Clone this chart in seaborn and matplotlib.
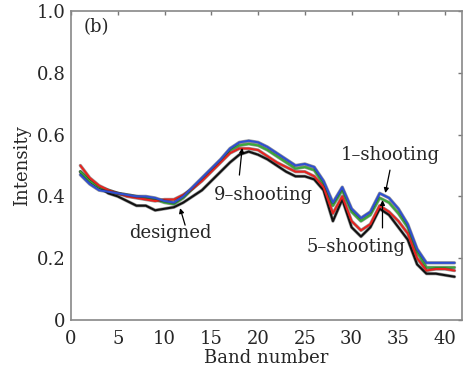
import matplotlib
matplotlib.use("Agg")
import matplotlib.pyplot as plt
import matplotlib.patheffects as pe
import seaborn as sns
import pandas as pd

bands = list(range(1, 42))
designed = [0.48, 0.45, 0.43, 0.41, 0.40, 0.385, 0.37, 0.37, 0.355, 0.36, 0.365, 0.38, 0.40, 0.42,
            0.45, 0.48, 0.51, 0.535, 0.545, 0.535, 0.52, 0.50, 0.48, 0.465, 0.465, 0.455, 0.42,
            0.32, 0.39, 0.30, 0.27, 0.30, 0.36, 0.34, 0.30, 0.26, 0.18, 0.15, 0.15, 0.145, 0.14]
shoot1 = [0.47, 0.44, 0.42, 0.415, 0.41, 0.405, 0.40, 0.40, 0.395, 0.385, 0.38, 0.40, 0.43, 0.46,
          0.49, 0.52, 0.555, 0.575, 0.58, 0.575, 0.56, 0.54, 0.52, 0.50, 0.505, 0.495, 0.45,
          0.38, 0.43, 0.36, 0.33, 0.35, 0.41, 0.395, 0.36, 0.31, 0.23, 0.185, 0.185, 0.185, 0.185]
shoot9 = [0.48, 0.45, 0.43, 0.42, 0.41, 0.405, 0.40, 0.395, 0.39, 0.38, 0.375, 0.395, 0.425, 0.455,
          0.485, 0.515, 0.55, 0.565, 0.57, 0.565, 0.55, 0.53, 0.51, 0.49, 0.495, 0.485, 0.44,
          0.37, 0.42, 0.35, 0.32, 0.34, 0.395, 0.38, 0.345, 0.30, 0.22, 0.17, 0.17, 0.17, 0.17]
shoot5 = [0.50, 0.46, 0.435, 0.42, 0.41, 0.40, 0.395, 0.39, 0.385, 0.39, 0.39, 0.405, 0.425, 0.45,
          0.48, 0.51, 0.54, 0.555, 0.555, 0.55, 0.53, 0.51, 0.495, 0.48, 0.48, 0.465, 0.43,
          0.345, 0.40, 0.32, 0.29, 0.31, 0.37, 0.35, 0.32, 0.28, 0.20, 0.16, 0.165, 0.165, 0.16]
series_names = ["designed", "9-shooting", "5-shooting", "1-shooting"]

df = pd.DataFrame({"band": bands * 4,
                   "value": designed + shoot9 + shoot5 + shoot1,
                   "series": sum([[n] * len(bands) for n in series_names], [])})

sns.set_theme(style="white")
plt.rcParams['font.family'] = ['DejaVu Serif']
fig = plt.figure(figsize=(4.63, 3.71), dpi=100)
ax = fig.add_axes([71/463, 51/371, 391/463, 309/371])

palette = {"designed": "#111111", "9-shooting": "#3aaa3a", "5-shooting": "#e8231f", "1-shooting": "#2f4fd0"}
sns.lineplot(data=df, x="band", y="value", hue="series", hue_order=series_names, palette=palette,
             linewidth=1.5, ax=ax, legend=False, estimator=None)
for ln in ax.get_lines():
    ln.set_path_effects([pe.Stroke(linewidth=2.4, foreground="#222222", alpha=0.45), pe.Normal()])

ax.set_xlim(0, 41.8)
ax.set_ylim(0, 1.0)
ax.set_xticks([0, 5, 10, 15, 20, 25, 30, 35, 40])
ax.set_yticks([0, 0.2, 0.4, 0.6, 0.8, 1.0])
ax.set_yticklabels(["0", "0.2", "0.4", "0.6", "0.8", "1.0"])
ax.tick_params(direction="in", length=3, width=1, color="#777777", labelsize=13, pad=4,
               top=True, right=True)
ax.tick_params(axis="x", pad=7)
for s in ax.spines.values():
    s.set_color("#888888")
    s.set_linewidth(1.2)
ax.set_xlabel("Band number", fontsize=13, labelpad=1)
ax.set_ylabel("Intensity", fontsize=13, labelpad=4)

ax.text(1.3, 0.948, "(b)", fontsize=13, va="center", ha="left")
ap = dict(arrowstyle="-|>", color="black", lw=0.9, mutation_scale=7, shrinkA=0, shrinkB=0)
ax.annotate("", xy=(18.3, 0.557), xytext=(18.0, 0.469), arrowprops=ap)
ax.text(20.6, 0.405, "9–shooting", fontsize=13, ha="center", va="center")
ax.annotate("", xy=(11.66, 0.362), xytext=(12.2, 0.307), arrowprops=ap)
ax.text(10.6, 0.28, "designed", fontsize=13, ha="center", va="center")
ax.annotate("", xy=(33.6, 0.411), xytext=(34.1, 0.485), arrowprops=ap)
ax.text(34.1, 0.534, "1–shooting", fontsize=13, ha="center", va="center")
ax.annotate("", xy=(33.3, 0.388), xytext=(33.3, 0.298), arrowprops=ap)
ax.text(30.5, 0.236, "5–shooting", fontsize=13, ha="center", va="center")

fig.savefig("out.png", dpi=100)
